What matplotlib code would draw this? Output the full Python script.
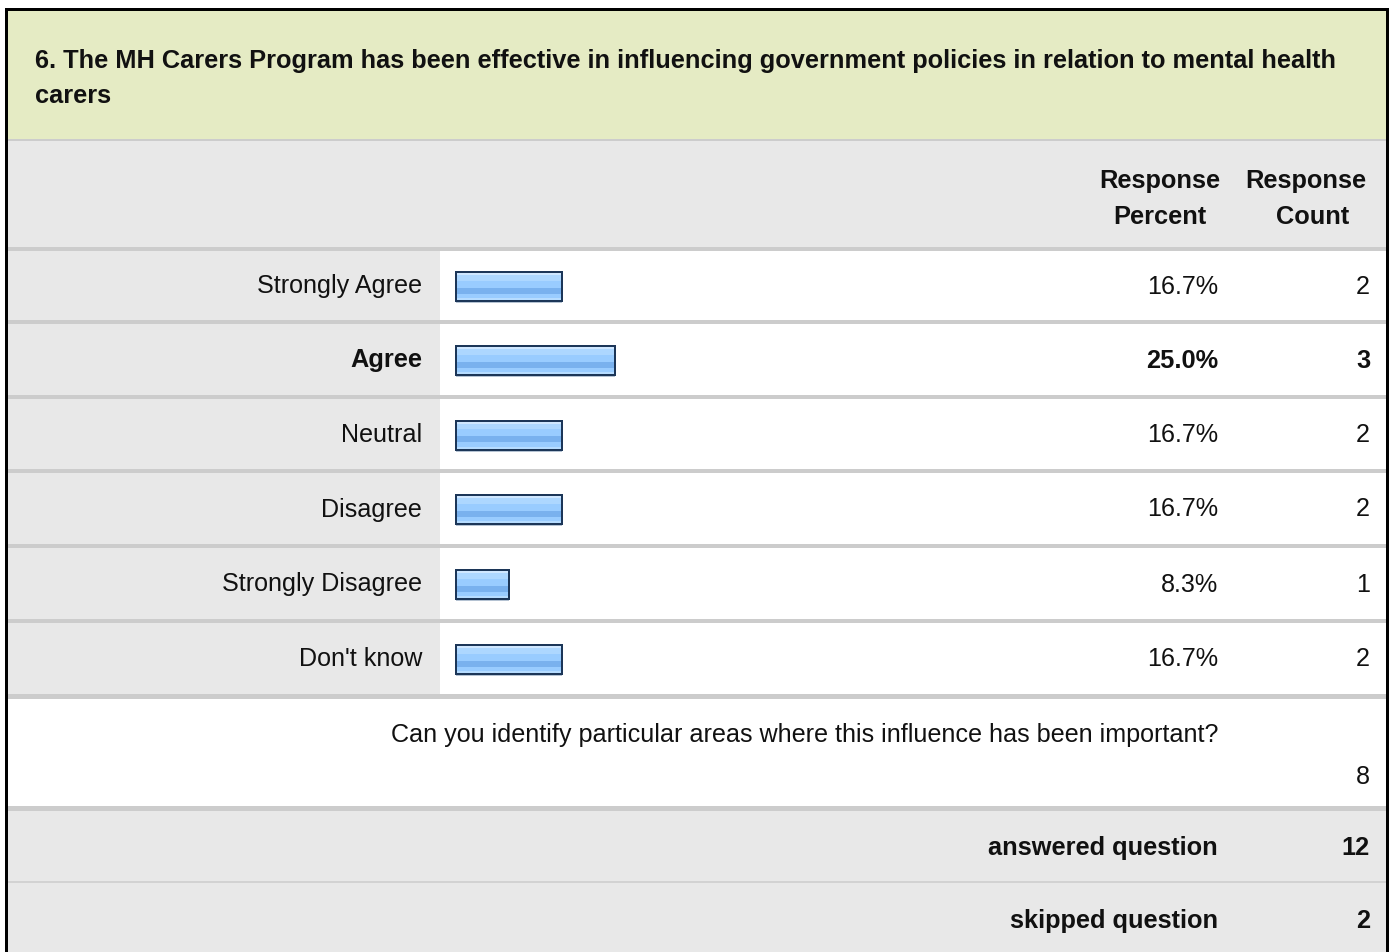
import numpy as np
import matplotlib.pyplot as plt
from matplotlib.patches import Rectangle

plt.rcParams['font.family'] = ['Liberation Sans', 'DejaVu Sans']

# data
title_lines = ["6. The MH Carers Program has been effective in influencing government policies in relation to mental health",
               "carers"]
categories = ["Strongly Agree", "Agree", "Neutral", "Disagree", "Strongly Disagree", "Don't know"]
percents = [16.7, 25.0, 16.7, 16.7, 8.3, 16.7]
counts = [2, 3, 2, 2, 1, 2]
open_question = "Can you identify particular areas where this influence has been important?"
open_count = 8
answered = 12
skipped = 2

# layout (pixels)
W, H = 1394, 952
GREEN = '#E5EBC4'
GRAY = '#E8E8E8'
SEP = '#CCCCCC'
TXT = '#111111'
FS = 18.1
FSB = 18.3
px = 0.72  # points per pixel at dpi 100

fig = plt.figure(figsize=(W / 100, H / 100), dpi=100)
ax = fig.add_axes([0, 0, 1, 1])
ax.set_xlim(0, W)
ax.set_ylim(H, 0)
ax.axis('off')


def band(y0, y1, color, x0=6, x1=1387):
    ax.add_patch(Rectangle((x0, y0), x1 - x0, y1 - y0, facecolor=color, edgecolor='none', zorder=0))


# title + header
band(9, 139, GREEN)
band(139, 141, SEP)
band(141, 247, GRAY)

seps = [247, 320, 395, 469, 544, 619, 694]
for i in range(len(categories)):
    y0, y1 = seps[i] + 4, seps[i + 1]
    band(y0, y1, GRAY, 6, 440)
    band(y0, y1, 'white', 440, 1387)
for s in seps:
    band(s, s + 4 if s != 694 else s + 5, SEP)

band(699, 806, 'white')
band(806, 811, SEP)
band(811, 881, GRAY)
band(881, 883, '#D2D2D2')
band(883, 952, GRAY)

# border
ax.plot([6, 6], [952, 9], color='black', lw=3 * px, solid_capstyle='projecting', zorder=5)
ax.plot([6, 1387], [9, 9], color='black', lw=3 * px, solid_capstyle='projecting', zorder=5)
ax.plot([1387, 1387], [9, 952], color='black', lw=3 * px, solid_capstyle='projecting', zorder=5)

ax.text(35, 68, title_lines[0], fontsize=FSB, fontweight='bold', color=TXT, va='baseline')
ax.text(35, 103, title_lines[1], fontsize=FSB, fontweight='bold', color=TXT, va='baseline')

ax.text(1160, 181, "Response", fontsize=FSB, fontweight='bold', color=TXT, ha='center', va='center')
ax.text(1160, 217, "Percent", fontsize=FSB, fontweight='bold', color=TXT, ha='center', va='center')
ax.text(1306, 181, "Response", fontsize=FSB, fontweight='bold', color=TXT, ha='center', va='center')
ax.text(1313, 217, "Count", fontsize=FSB, fontweight='bold', color=TXT, ha='center', va='center')

# bars
centers = np.array([(seps[i] + 4 + seps[i + 1]) / 2 + 1 for i in range(len(categories))])
scale = 6.35
bar_x0 = 456
bh = 29
widths = np.array(percents) * scale
stripes = [(0.00, 0.12, '#CFE7FF'), (0.12, 0.30, '#ADD7FF'), (0.30, 0.55, '#99CCFF'),
           (0.55, 0.75, '#79B1EE'), (0.75, 0.90, '#99CCFF'), (0.90, 1.00, '#B6DCFF')]
ax.barh(centers + bh / 2 + 1, widths, height=2, left=bar_x0, color='#B4C2D2', zorder=2)
for a, b, c in stripes:
    ax.barh(centers - bh / 2 + (a + b) / 2 * bh, widths, height=(b - a) * bh,
            left=bar_x0, color=c, zorder=3)
ax.barh(centers, widths, height=bh, left=bar_x0, fill=False,
        edgecolor='#1C3658', linewidth=2 * px, zorder=4)

top = max(counts)
for c, lab, p, n in zip(centers, categories, percents, counts):
    w = 'bold' if n == top else 'normal'
    f = FSB if n == top else FS
    ax.text(422, c, lab, fontsize=f, fontweight=w, color=TXT, ha='right', va='center')
    ax.text(1218, c, f"{p:.1f}%", fontsize=f, fontweight=w, color=TXT, ha='right', va='center')
    ax.text(1370, c, str(n), fontsize=f, fontweight=w, color=TXT, ha='right', va='center')

ax.text(1218, 735, open_question, fontsize=FS, color=TXT, ha='right', va='center')
ax.text(1370, 777, str(open_count), fontsize=FS, color=TXT, ha='right', va='center')

ax.text(1218, 848, "answered question", fontsize=FSB, fontweight='bold', color=TXT, ha='right', va='center')
ax.text(1370, 848, str(answered), fontsize=FSB, fontweight='bold', color=TXT, ha='right', va='center')
ax.text(1218, 921, "skipped question", fontsize=FSB, fontweight='bold', color=TXT, ha='right', va='center')
ax.text(1370, 921, str(skipped), fontsize=FSB, fontweight='bold', color=TXT, ha='right', va='center')

fig.savefig('out.png', dpi=100)
